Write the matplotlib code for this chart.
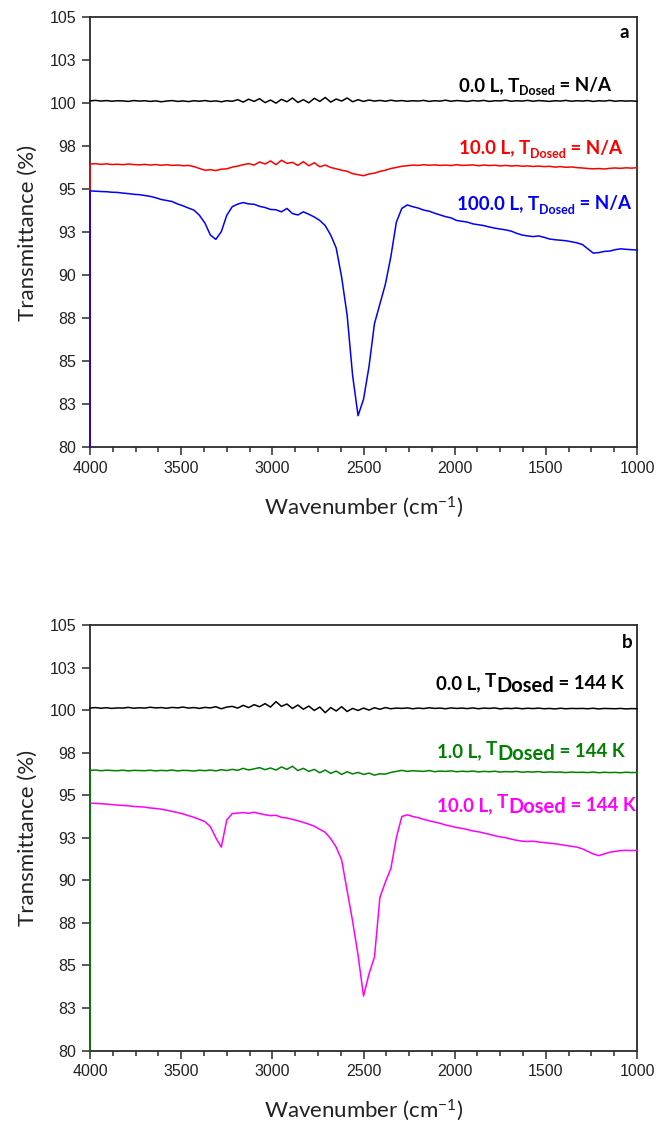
import numpy as np
import matplotlib
matplotlib.use("Agg")
import matplotlib.pyplot as plt
from matplotlib.ticker import MultipleLocator

# sampling grid of the spectra (cm^-1), 30 cm^-1 steps from 4000 to 1000
wavenumber = np.arange(4000, 999, -30)

# panel a: transmittance (%) on the grid above
black_a = [
    100.15, 100.18, 100.14, 100.17, 100.13, 100.16, 100.15, 100.12, 100.17, 100.14,
    100.16, 100.12, 100.15, 100.10, 100.14, 100.17, 100.12, 100.15, 100.11, 100.16,
    100.13, 100.17, 100.12, 100.15, 100.10, 100.16, 100.13, 100.22, 100.08, 100.25,
    100.12, 100.28, 100.05, 100.20, 100.02, 100.24, 100.10, 100.32, 100.06, 100.22,
    100.04, 100.30, 100.12, 100.35, 100.08, 100.26, 100.14, 100.32, 100.10, 100.22,
    100.12, 100.20, 100.14, 100.18, 100.13, 100.19, 100.14, 100.17, 100.13, 100.16,
    100.14, 100.18, 100.12, 100.16, 100.14, 100.19, 100.13, 100.17, 100.15, 100.12,
    100.17, 100.14, 100.18, 100.12, 100.16, 100.15, 100.19, 100.13, 100.16, 100.14,
    100.18, 100.13, 100.17, 100.15, 100.12, 100.16, 100.14, 100.18, 100.13, 100.16,
    100.14, 100.17, 100.12, 100.16, 100.14, 100.18, 100.13, 100.16, 100.14, 100.15,
    100.13,
]
red_a = [
    96.48, 96.50, 96.46, 96.49, 96.45, 96.47, 96.44, 96.48, 96.45, 96.43,
    96.46, 96.42, 96.45, 96.41, 96.44, 96.40, 96.42, 96.38, 96.40, 96.33,
    96.22, 96.12, 96.15, 96.10, 96.18, 96.20, 96.30, 96.36, 96.44, 96.50,
    96.42, 96.60, 96.48, 96.66, 96.44, 96.70, 96.52, 96.58, 96.40, 96.62,
    96.38, 96.55, 96.32, 96.42, 96.28, 96.20, 96.12, 96.06, 95.92, 95.86,
    95.80, 95.90, 95.95, 96.05, 96.12, 96.22, 96.28, 96.35, 96.38, 96.42,
    96.40, 96.44, 96.41, 96.43, 96.40, 96.42, 96.39, 96.44, 96.40, 96.41,
    96.43, 96.38, 96.42, 96.39, 96.41, 96.37, 96.40, 96.36, 96.39, 96.35,
    96.37, 96.34, 96.36, 96.33, 96.35, 96.30, 96.33, 96.29, 96.31, 96.27,
    96.25, 96.22, 96.20, 96.22, 96.19, 96.23, 96.25, 96.23, 96.26, 96.24,
    96.27,
]
blue_a = [
    94.92, 94.90, 94.88, 94.87, 94.84, 94.83, 94.79, 94.76, 94.72, 94.70,
    94.65, 94.60, 94.52, 94.42, 94.36, 94.30, 94.16, 94.05, 93.92, 93.80,
    93.50, 93.05, 92.35, 92.10, 92.55, 93.50, 94.00, 94.15, 94.24, 94.16,
    94.14, 94.02, 93.95, 93.84, 93.82, 93.70, 93.90, 93.60, 93.52, 93.70,
    93.56, 93.40, 93.20, 92.90, 92.35, 91.60, 89.90, 87.70, 84.20, 81.85,
    82.80, 84.70, 87.20, 88.35, 89.50, 91.10, 93.10, 93.90, 94.10, 94.00,
    93.92, 93.80, 93.74, 93.62, 93.52, 93.42, 93.35, 93.20, 93.15, 93.10,
    93.00, 92.95, 92.90, 92.82, 92.75, 92.70, 92.65, 92.58, 92.45, 92.35,
    92.30, 92.26, 92.30, 92.22, 92.12, 92.08, 92.05, 92.02, 91.96, 91.90,
    91.80, 91.55, 91.30, 91.33, 91.40, 91.42, 91.50, 91.55, 91.52, 91.50,
    91.48,
]

# panel b
black_b = [
    100.12, 100.15, 100.11, 100.14, 100.10, 100.13, 100.12, 100.16, 100.11, 100.14,
    100.12, 100.17, 100.13, 100.15, 100.11, 100.16, 100.13, 100.18, 100.12, 100.15,
    100.10, 100.16, 100.13, 100.20, 100.08, 100.18, 100.22, 100.12, 100.28, 100.15,
    100.32, 100.20, 100.38, 100.18, 100.50, 100.22, 100.36, 100.10, 100.30, 100.05,
    100.24, 99.98, 100.18, 99.85, 100.15, 99.95, 100.20, 99.92, 100.10, 99.98,
    100.12, 100.00, 100.14, 100.05, 100.15, 100.08, 100.12, 100.10, 100.13, 100.08,
    100.12, 100.09, 100.14, 100.10, 100.12, 100.08, 100.13, 100.10, 100.12, 100.09,
    100.13, 100.08, 100.12, 100.10, 100.13, 100.07, 100.11, 100.09, 100.12, 100.08,
    100.11, 100.09, 100.12, 100.08, 100.10, 100.07, 100.11, 100.08, 100.10, 100.09,
    100.10, 100.08, 100.11, 100.07, 100.10, 100.09, 100.08, 100.10, 100.07, 100.09,
    100.08,
]
green_b = [
    96.46, 96.48, 96.44, 96.47, 96.45, 96.44, 96.47, 96.43, 96.46, 96.45,
    96.44, 96.47, 96.43, 96.46, 96.44, 96.48, 96.43, 96.46, 96.45, 96.42,
    96.47, 96.44, 96.48, 96.43, 96.50, 96.45, 96.52, 96.46, 96.58, 96.48,
    96.55, 96.62, 96.50, 96.60, 96.48, 96.66, 96.52, 96.70, 96.45, 96.58,
    96.40, 96.52, 96.32, 96.48, 96.28, 96.42, 96.22, 96.38, 96.25, 96.34,
    96.22, 96.30, 96.18, 96.26, 96.24, 96.34, 96.40, 96.46, 96.40, 96.44,
    96.42, 96.40, 96.45, 96.38, 96.42, 96.40, 96.43, 96.38, 96.41, 96.39,
    96.42, 96.37, 96.40, 96.38, 96.41, 96.36, 96.39, 96.37, 96.40, 96.35,
    96.38, 96.36, 96.39, 96.34, 96.37, 96.35, 96.36, 96.33, 96.36, 96.34,
    96.35, 96.33, 96.36, 96.32, 96.35, 96.33, 96.34, 96.32, 96.35, 96.33,
    96.34,
]
magenta_b = [
    94.53, 94.52, 94.50, 94.48, 94.45, 94.42, 94.40, 94.38, 94.34, 94.32,
    94.30, 94.25, 94.22, 94.18, 94.12, 94.05, 93.98, 93.90, 93.80, 93.70,
    93.58, 93.45, 93.15, 92.50, 91.95, 93.55, 93.92, 93.95, 93.98, 93.94,
    94.00, 93.92, 93.85, 93.80, 93.82, 93.70, 93.66, 93.58, 93.50, 93.40,
    93.30, 93.18, 93.00, 92.82, 92.45, 91.95, 91.20, 89.40, 87.60, 85.60,
    83.20, 84.50, 85.50, 89.00, 89.90, 90.70, 92.50, 93.75, 93.85, 93.75,
    93.68, 93.58, 93.50, 93.42, 93.35, 93.25, 93.18, 93.10, 93.05, 92.98,
    92.90, 92.85, 92.78, 92.70, 92.62, 92.55, 92.50, 92.42, 92.35, 92.30,
    92.28, 92.30, 92.25, 92.22, 92.18, 92.15, 92.10, 92.05, 92.00, 91.95,
    91.85, 91.70, 91.55, 91.45, 91.55, 91.65, 91.70, 91.75, 91.76, 91.75,
    91.76,
]

# the dosed scans start with a drop to the bottom of the scale at 4000 cm^-1
scan_floor = 80.0

y_ticks = [80, 82.5, 85, 87.5, 90, 92.5, 95, 97.5, 100, 102.5, 105]
y_tick_labels = ["80", "83", "85", "88", "90", "93", "95", "98", "100", "103", "105"]
x_ticks = [4000, 3500, 3000, 2500, 2000, 1500, 1000]

plt.rcParams["font.family"] = ["Liberation Sans", "DejaVu Sans"]
plt.rcParams["mathtext.fontset"] = "custom"
plt.rcParams["mathtext.rm"] = "Lato"
plt.rcParams["mathtext.it"] = "Lato:italic"
plt.rcParams["mathtext.bf"] = "Lato:bold"

fig = plt.figure(figsize=(6.6, 11.28), dpi=100)
ax_a = fig.add_axes([0.1364, 0.6033, 0.8288, 0.3812])
ax_b = fig.add_axes([0.1364, 0.0687, 0.8288, 0.3772])

frame = "#2b2b2b"


def style_axes(ax):
    ax.set_xlim(4000, 1000)
    ax.set_ylim(80, 105)
    ax.set_xticks(x_ticks)
    ax.xaxis.set_minor_locator(MultipleLocator(125))
    ax.set_yticks(y_ticks)
    ax.set_yticklabels(y_tick_labels)
    ax.tick_params(axis="both", which="major", direction="out", length=6, width=1.1,
                   color=frame, labelsize=11.5, labelcolor="#222222", pad=4)
    ax.tick_params(axis="x", which="minor", direction="out", length=3.5, width=1.1, color=frame)
    ax.tick_params(top=False, right=False)
    for sp in ax.spines.values():
        sp.set_linewidth(1.3)
        sp.set_color(frame)
    ax.set_xlabel("Wavenumber (cm$^{-1}$)", fontfamily="Lato", fontsize=16, color="#222222")
    ax.set_ylabel("Transmittance (%)", fontfamily="Lato", fontsize=16, color="#222222")
    ax.xaxis.set_label_coords(0.5, -0.11)
    ax.yaxis.set_label_coords(-0.095, 0.5)


def spectrum(ax, values, color, drop=False):
    x = wavenumber
    y = np.asarray(values)
    if drop:
        x = np.r_[wavenumber[0], wavenumber]
        y = np.r_[scan_floor, y]
    ax.plot(x, y, color=color, lw=1.1, zorder=3, clip_on=False)


def dose_label(ax, x_right, y, pieces, color):
    # pieces: (text, fontsize, baseline shift in points)
    texts = []
    prev_shift = 0
    for i, (s, size, shift) in enumerate(pieces):
        kw = dict(fontsize=size, fontweight="bold", fontfamily="Lato", color=color, zorder=4)
        if i == 0:
            t = ax.text(x_right, y, s, ha="left", va="baseline", **kw)
        else:
            t = ax.annotate(s, xy=(1, 0), xycoords=texts[-1], xytext=(0, shift - prev_shift),
                            textcoords="offset points", ha="left", va="bottom", **kw)
        prev_shift = shift
        texts.append(t)
    return (ax, x_right, y, texts)


style_axes(ax_a)
style_axes(ax_b)

spectrum(ax_a, black_a, "black")
spectrum(ax_a, red_a, "#ff0000", drop=True)
spectrum(ax_a, blue_a, "#0000ff", drop=True)

spectrum(ax_b, black_b, "black")
spectrum(ax_b, magenta_b, "#ff00ff")
spectrum(ax_b, green_b, "#008000", drop=True)

sub_a = [("Dosed", 9, -2.5)]
sub_b = [("T", 13.5, 1.8), ("Dosed", 14.5, -2.6)]

labels = []
labels.append(dose_label(ax_a, 1144, 100.73,
                         [("0.0 L, T", 13.5, 0)] + sub_a + [(" = N/A", 13.5, 0)], "black"))
labels.append(dose_label(ax_a, 1084, 97.09,
                         [("10.0 L, T", 13.5, 0)] + sub_a + [(" = N/A", 13.5, 0)], "#ff0000"))
labels.append(dose_label(ax_a, 1035, 93.84,
                         [("100.0 L, T", 13.5, 0)] + sub_a + [(" = N/A", 13.5, 0)], "#0000ff"))

labels.append(dose_label(ax_b, 1072, 101.22,
                         [("0.0 L, ", 13.5, 0)] + sub_b + [(" = 144 K", 13.5, 0)], "black"))
labels.append(dose_label(ax_b, 1066, 97.22,
                         [("1.0 L, ", 13.5, 0)] + sub_b + [(" = 144 K", 13.5, 0)], "#008000"))
labels.append(dose_label(ax_b, 1006, 94.08,
                         [("10.0 L, ", 13.5, 0)] + sub_b + [(" = 144 K", 13.5, 0)], "#ff00ff"))

ax_a.text(1069, 103.78, "a", ha="center", va="baseline", fontsize=13.5,
          fontweight="bold", fontfamily="Lato", color="black")
ax_b.text(1053, 103.63, "b", ha="center", va="baseline", fontsize=13.5,
          fontweight="bold", fontfamily="Lato", color="black")

# right-align each composite label on its anchor
fig.canvas.draw()
for ax, x_right, y, texts in labels:
    left = texts[0].get_window_extent().x0
    right = texts[-1].get_window_extent().x1
    target = ax.transData.transform((x_right, y))[0]
    new_left = ax.transData.inverted().transform((target - (right - left), 0))[0]
    texts[0].set_x(new_left)

fig.savefig("out.png", dpi=100)
